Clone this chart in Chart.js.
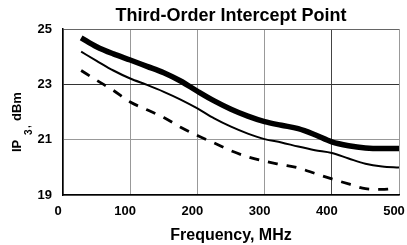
<!DOCTYPE html>
<html>
<head>
<meta charset="utf-8">
<script src="https://cdn.jsdelivr.net/npm/chart.js@4/dist/chart.umd.min.js"></script>
<style>
  html, body { margin: 0; padding: 0; background: #fff; }
  #wrap { width: 407px; height: 245px; }
</style>
</head>
<body>
<div id="wrap"><canvas id="ip3Chart" width="407" height="245"></canvas></div>
<script>
const freqMHz = [27, 50, 75, 100, 125, 150, 175, 200, 225, 250, 275, 300, 325, 350, 375, 400, 425, 450, 475, 500];
const ip3Thick = [24.68, 24.36, 24.1, 23.88, 23.65, 23.42, 23.12, 22.75, 22.4, 22.1, 21.85, 21.65, 21.52, 21.4, 21.18, 20.92, 20.78, 20.7, 20.68, 20.68];
const ip3Thin = [24.18, 23.85, 23.5, 23.21, 22.98, 22.73, 22.45, 22.13, 21.77, 21.47, 21.22, 21.02, 20.9, 20.75, 20.62, 20.52, 20.32, 20.13, 20.03, 19.99];
const dashFreqMHz = [27, 50, 75, 100, 125, 150, 175, 200, 225, 250, 275, 300, 325, 350, 375, 400, 425, 450, 475, 487];
const ip3Dashed = [23.5, 23.15, 22.78, 22.36, 22.08, 21.8, 21.45, 21.15, 20.88, 20.6, 20.38, 20.22, 20.1, 19.98, 19.78, 19.58, 19.4, 19.23, 19.2, 19.22];
const xTicks = [0, 100, 200, 300, 400, 500];
const yTicks = [19, 21, 23, 25];

document.addEventListener("DOMContentLoaded", function () {
  const font = "'Liberation Sans', Arial, sans-serif";

  function toPoints(xs, ys) {
    return xs.map((x, i) => ({ x: x, y: ys[i] }));
  }

  function lineSet(xs, ys, width, dash) {
    return {
      data: toPoints(xs, ys),
      borderColor: "#000",
      borderWidth: width,
      borderDash: dash,
      pointRadius: 0,
      cubicInterpolationMode: "monotone",
      fill: false
    };
  }

  // y axis title with a subscript 3, drawn rotated
  const yTitlePlugin = {
    id: "yTitle",
    afterDraw(chart) {
      const c = chart.ctx;
      c.save();
      c.translate(21, 152);
      c.rotate(-Math.PI / 2);
      c.fillStyle = "#000";
      c.textBaseline = "alphabetic";
      c.font = "bold 13px " + font;
      c.fillText("IP", 0, 0);
      c.font = "bold 10px " + font;
      c.fillText("3", 17, 11);
      c.fillText(",", 24, 9);
      c.font = "bold 13px " + font;
      c.fillText("dBm", 31, 0);
      c.restore();
    }
  };

  const ctx = document.getElementById("ip3Chart").getContext("2d");
  new Chart(ctx, {
    type: "line",
    data: {
      datasets: [
        lineSet(freqMHz, ip3Thick, 5.5, []),
        lineSet(freqMHz, ip3Thin, 2, []),
        lineSet(dashFreqMHz, ip3Dashed, 2.8, [10, 9])
      ]
    },
    options: {
      responsive: false,
      animation: false,
      layout: { padding: 0 },
      plugins: {
        legend: { display: false },
        tooltip: { enabled: false },
        title: {
          display: true,
          fullSize: false,
          text: "Third-Order Intercept Point",
          color: "#000",
          font: { family: font, size: 18, weight: "bold" },
          padding: { top: 5, bottom: 2.4 }
        }
      },
      scales: {
        x: {
          type: "linear",
          min: 0,
          max: 500,
          afterBuildTicks: s => { s.ticks = xTicks.map(v => ({ value: v })); },
          afterFit: s => { s.height = 50; s.paddingRight = 8; s.paddingLeft = 0; },
          ticks: {
            color: "#000",
            font: { family: font, size: 13, weight: "bold" },
            padding: 9,
            labelOffset: -5,
            maxRotation: 0
          },
          grid: {
            drawTicks: false,
            lineWidth: 1,
            color: c => (c.tick && c.tick.value === 400 ? "#444" : "#999")
          },
          border: { color: "#000", width: 1.5 },
          title: {
            display: true,
            text: "Frequency, MHz",
            color: "#000",
            font: { family: font, size: 16, weight: "bold" },
            padding: { top: 2, bottom: 0 }
          }
        },
        y: {
          min: 19,
          max: 25,
          afterBuildTicks: s => { s.ticks = yTicks.map(v => ({ value: v })); },
          afterFit: s => { s.width = 63; },
          ticks: {
            color: "#000",
            font: { family: font, size: 13, weight: "bold" },
            padding: 11
          },
          grid: {
            drawTicks: false,
            lineWidth: 1,
            color: c => (c.tick && c.tick.value === 23 ? "#333" : c.tick && c.tick.value === 25 ? "#666" : "#999")
          },
          border: { color: "#000", width: 1.5 }
        }
      }
    },
    plugins: [yTitlePlugin]
  });
});
</script>
</body>
</html>
